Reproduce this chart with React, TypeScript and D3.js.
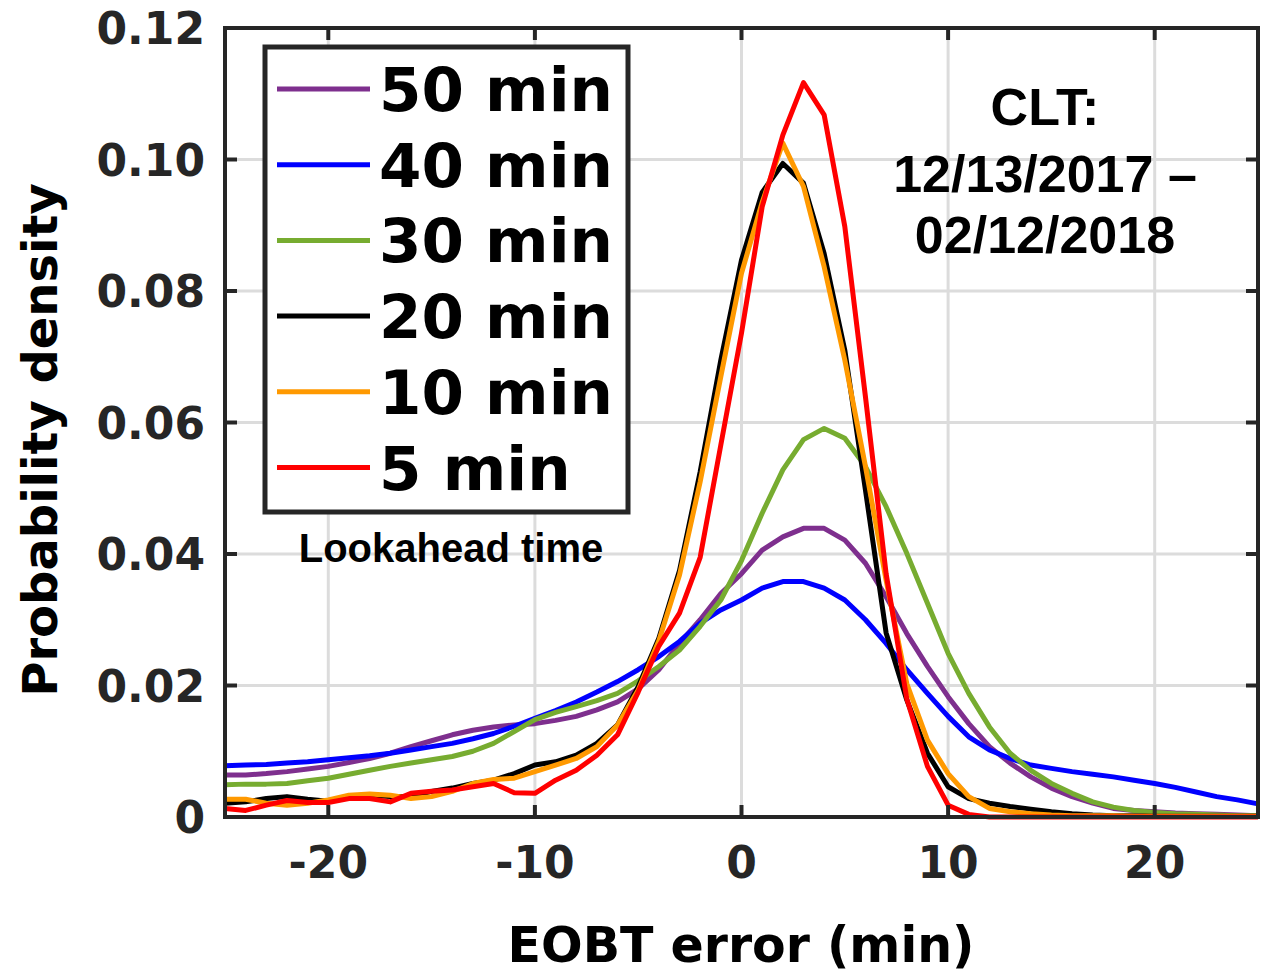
import React, { useEffect, useRef } from 'react';
import * as d3 from 'd3';

// EOBT error (min), one point per minute
const errorMinutes = d3.range(-25, 26);

const lookahead = ['50 min', '40 min', '30 min', '20 min', '10 min', '5 min'];
const lineColors = ['#7E2F8E', '#0000FF', '#77AC30', '#000000', '#FF9900', '#FF0000'];

const min50 = [
  0.0064, 0.0064, 0.0066, 0.0069, 0.0073, 0.0077, 0.0083, 0.0089, 0.0097, 0.0107,
  0.0116, 0.0125, 0.0132, 0.0137, 0.0140, 0.0142, 0.0147, 0.0153, 0.0163, 0.0175,
  0.0195, 0.0224, 0.0264, 0.0300, 0.0340, 0.0370, 0.0406, 0.0426, 0.0439, 0.0439,
  0.0421, 0.0386, 0.0335, 0.0279, 0.0229, 0.0183, 0.0142, 0.0107, 0.0082, 0.0061,
  0.0044, 0.0031, 0.0021, 0.0013, 0.0010, 0.0008, 0.0006, 0.0005, 0.0004, 0.0003,
  0.0002,
];
const min40 = [
  0.0078, 0.0079, 0.0080, 0.0082, 0.0084, 0.0087, 0.0090, 0.0093, 0.0097, 0.0102,
  0.0107, 0.0112, 0.0119, 0.0127, 0.0138, 0.0150, 0.0162, 0.0175, 0.0190, 0.0206,
  0.0224, 0.0244, 0.0267, 0.0295, 0.0315, 0.0330, 0.0348, 0.0358, 0.0358, 0.0348,
  0.0330, 0.0300, 0.0264, 0.0224, 0.0188, 0.0153, 0.0122, 0.0102, 0.0089, 0.0079,
  0.0074, 0.0069, 0.0065, 0.0061, 0.0056, 0.0051, 0.0045, 0.0038, 0.0031, 0.0026,
  0.0020,
];
const min30 = [
  0.0049, 0.0050, 0.0050, 0.0051, 0.0055, 0.0059, 0.0065, 0.0071, 0.0077, 0.0082,
  0.0087, 0.0092, 0.0100, 0.0112, 0.0130, 0.0148, 0.0159, 0.0168, 0.0177, 0.0188,
  0.0207, 0.0229, 0.0254, 0.0290, 0.0330, 0.0390, 0.0462, 0.0528, 0.0574, 0.0591,
  0.0576, 0.0533, 0.0472, 0.0401, 0.0325, 0.0249, 0.0188, 0.0137, 0.0097, 0.0071,
  0.0051, 0.0036, 0.0023, 0.0015, 0.0010, 0.0007, 0.0005, 0.0004, 0.0003, 0.0002,
  0.0002,
];
const min20 = [
  0.0021, 0.0023, 0.0028, 0.0031, 0.0027, 0.0024, 0.0031, 0.0033, 0.0031, 0.0031,
  0.0039, 0.0044, 0.0051, 0.0056, 0.0066, 0.0079, 0.0084, 0.0094, 0.0112, 0.0140,
  0.0198, 0.0272, 0.0375, 0.0525, 0.0695, 0.0847, 0.0950, 0.0994, 0.0964, 0.0857,
  0.0710, 0.0497, 0.0280, 0.0178, 0.0097, 0.0046, 0.0028, 0.0021, 0.0016, 0.0012,
  0.0008, 0.0005, 0.0003, 0.0002, 0.0002, 0.0001, 0.0001, 0.0001, 0.0001, 0.0001,
  0.0001,
];
const min10 = [
  0.0027, 0.0027, 0.0021, 0.0018, 0.0021, 0.0026, 0.0033, 0.0035, 0.0033, 0.0028,
  0.0031, 0.0039, 0.0051, 0.0057, 0.0059, 0.0069, 0.0079, 0.0089, 0.0107, 0.0140,
  0.0193, 0.0268, 0.0368, 0.0510, 0.0670, 0.0827, 0.0935, 0.1025, 0.0959, 0.0837,
  0.0695, 0.0533, 0.0360, 0.0203, 0.0117, 0.0066, 0.0031, 0.0013, 0.0008, 0.0005,
  0.0003, 0.0002, 0.0002, 0.0002, 0.0001, 0.0001, 0.0001, 0.0001, 0.0001, 0.0001,
  0.0001,
];
const min5 = [
  0.0013, 0.0010, 0.0018, 0.0025, 0.0022, 0.0022, 0.0028, 0.0028, 0.0023, 0.0036,
  0.0039, 0.0041, 0.0046, 0.0051, 0.0037, 0.0036, 0.0056, 0.0071, 0.0094, 0.0125,
  0.0190, 0.0260, 0.0310, 0.0395, 0.0566, 0.0736, 0.0928, 0.1037, 0.1117, 0.1068,
  0.0898, 0.0639, 0.0370, 0.0180, 0.0077, 0.0018, 0.0004, 0, 0, 0,
  0, 0, 0, 0, 0, 0, 0, 0, 0, 0,
  0,
];
const seriesValues = [min50, min40, min30, min20, min10, min5];

const xTicks = [-20, -10, 0, 10, 20];
const yTicks = [0, 0.02, 0.04, 0.06, 0.08, 0.1, 0.12];
const yTickLabels = ['0', '0.02', '0.04', '0.06', '0.08', '0.10', '0.12'];
const noteLines = ['CLT:', '12/13/2017 \u2013', '02/12/2018'];

export default function App() {
  const ref = useRef<SVGSVGElement>(null);

  useEffect(() => {
    const svg = d3.select(ref.current);
    svg.selectAll('*').remove();

    const left = 225, right = 1258, top = 28, bottom = 817;
    const axisColor = '#262626';
    const tickFont = 'DejaVu Sans, sans-serif';

    const x = d3.scaleLinear().domain([-25, 25]).range([left, right]);
    const y = d3.scaleLinear().domain([0, 0.12]).range([bottom, top]);

    svg.append('rect').attr('width', 1266).attr('height', 975).attr('fill', '#fff');

    // grid
    const grid = svg.append('g').attr('stroke', '#dcdcdc').attr('stroke-width', 3);
    xTicks.forEach(t => {
      grid.append('line').attr('x1', x(t)).attr('x2', x(t)).attr('y1', top).attr('y2', bottom);
    });
    yTicks.slice(1, -1).forEach(t => {
      grid.append('line').attr('x1', left).attr('x2', right).attr('y1', y(t)).attr('y2', y(t));
    });

    // curves
    const line = d3.line<number>()
      .x((d, i) => x(errorMinutes[i]))
      .y(d => y(d));

    seriesValues.forEach((vals, k) => {
      svg.append('path')
        .datum(vals)
        .attr('fill', 'none')
        .attr('stroke', lineColors[k])
        .attr('stroke-width', 5)
        .attr('stroke-linejoin', 'round')
        .attr('d', line);
    });

    // box + inward ticks
    const frame = svg.append('g').attr('stroke', axisColor).attr('stroke-width', 4);
    frame.append('rect')
      .attr('x', left).attr('y', top)
      .attr('width', right - left).attr('height', bottom - top)
      .attr('fill', 'none');
    const tl = 12;
    xTicks.forEach(t => {
      frame.append('line').attr('x1', x(t)).attr('x2', x(t)).attr('y1', bottom).attr('y2', bottom - tl);
      frame.append('line').attr('x1', x(t)).attr('x2', x(t)).attr('y1', top).attr('y2', top + tl);
    });
    yTicks.forEach(t => {
      frame.append('line').attr('x1', left).attr('x2', left + tl).attr('y1', y(t)).attr('y2', y(t));
      frame.append('line').attr('x1', right).attr('x2', right - tl).attr('y1', y(t)).attr('y2', y(t));
    });

    // tick labels
    svg.append('g').selectAll('text')
      .data(xTicks)
      .enter()
      .append('text')
        .attr('x', d => x(d))
        .attr('y', 878)
        .attr('text-anchor', 'middle')
        .attr('font-family', tickFont)
        .attr('font-weight', 'bold')
        .attr('font-size', 44)
        .attr('fill', axisColor)
        .text(d => String(d));

    svg.append('g').selectAll('text')
      .data(yTicks)
      .enter()
      .append('text')
        .attr('x', 205)
        .attr('y', d => y(d) + 16)
        .attr('text-anchor', 'end')
        .attr('font-family', tickFont)
        .attr('font-weight', 'bold')
        .attr('font-size', 44)
        .attr('fill', axisColor)
        .text((d, i) => yTickLabels[i]);

    // axis labels
    svg.append('text')
      .attr('transform', 'translate(57,440) rotate(-90)')
      .attr('text-anchor', 'middle')
      .attr('font-family', tickFont)
      .attr('font-weight', 'bold')
      .attr('font-size', 48)
      .attr('fill', '#000')
      .text('Probability density');

    svg.append('text')
      .attr('x', 741)
      .attr('y', 962)
      .attr('text-anchor', 'middle')
      .attr('font-family', tickFont)
      .attr('font-weight', 'bold')
      .attr('font-size', 49)
      .attr('fill', '#000')
      .text('EOBT error (min)');

    // legend
    const legend = svg.append('g');
    legend.append('rect')
      .attr('x', 265).attr('y', 47)
      .attr('width', 363).attr('height', 465)
      .attr('fill', '#fff')
      .attr('stroke', axisColor)
      .attr('stroke-width', 5);
    lookahead.forEach((name, k) => {
      const cy = 89 + k * 75.7;
      legend.append('line')
        .attr('x1', 277).attr('x2', 370)
        .attr('y1', cy).attr('y2', cy)
        .attr('stroke', lineColors[k])
        .attr('stroke-width', 5);
      legend.append('text')
        .attr('x', 379)
        .attr('y', cy + 22)
        .attr('font-family', tickFont)
        .attr('font-weight', 'bold')
        .attr('font-size', 61)
        .attr('fill', '#000')
        .text(name);
    });
    svg.append('text')
      .attr('x', 451)
      .attr('y', 562)
      .attr('text-anchor', 'middle')
      .attr('font-family', 'Liberation Sans, Arial, sans-serif')
      .attr('font-weight', 'bold')
      .attr('font-size', 40)
      .attr('fill', '#000')
      .text('Lookahead time');

    // airport / date range note
    const noteY = [125, 192, 253];
    noteLines.forEach((s, i) => {
      svg.append('text')
        .attr('x', 1045)
        .attr('y', noteY[i])
        .attr('text-anchor', 'middle')
        .attr('font-family', 'Liberation Sans, Arial, sans-serif')
        .attr('font-weight', 'bold')
        .attr('font-size', 52)
        .attr('fill', '#000')
        .text(s);
    });
  }, []);

  return (
    <svg
      ref={ref}
      width={1266}
      height={975}
      style={{ position: 'absolute', left: 0, top: 0, display: 'block' }}
    />
  );
}
